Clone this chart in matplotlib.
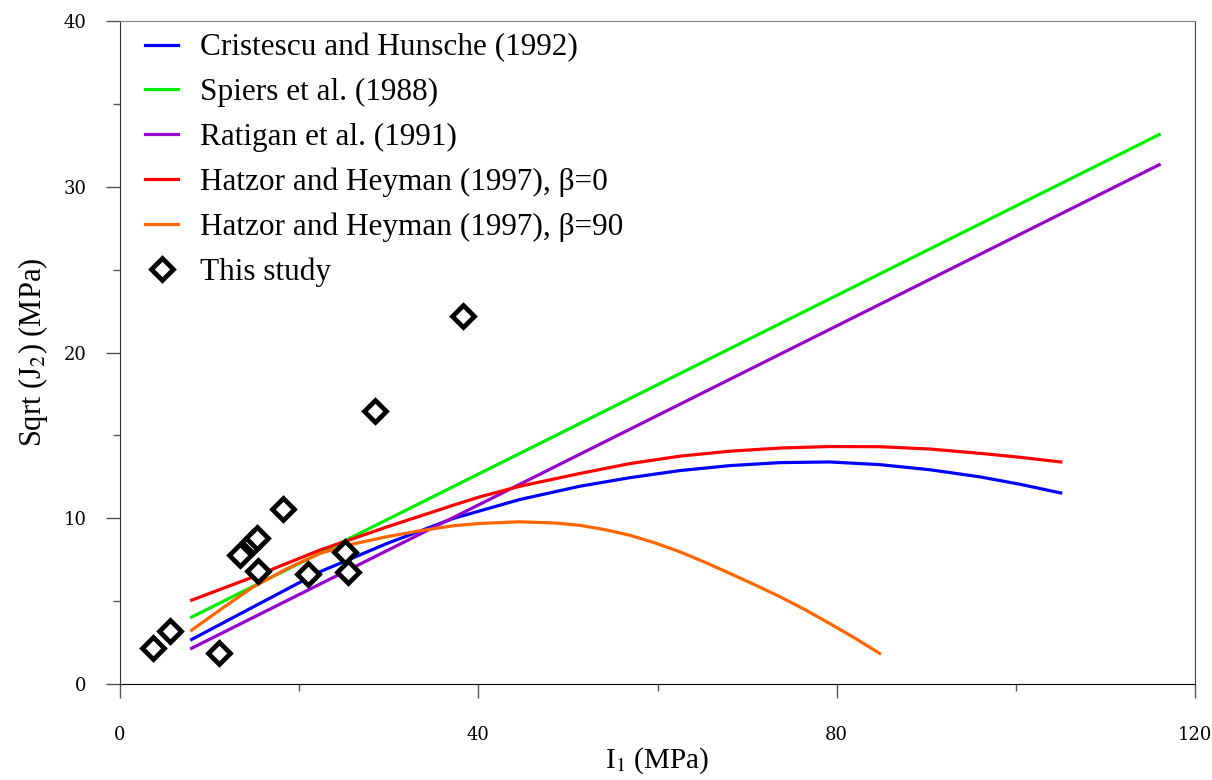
import matplotlib
matplotlib.use("Agg")
import matplotlib.pyplot as plt
import numpy as np

# lines (I1, sqrt(J2)) in MPa
cristescu_x = [8, 14.9, 22.3, 29.8, 37.2, 44.6, 51.3, 56.9, 62.5, 68.1, 73.7, 79.2, 84.8, 90.4, 96.0, 100.5, 105.0]
cristescu_y = [2.69, 4.66, 6.77, 8.48, 9.99, 11.13, 11.93, 12.45, 12.88, 13.18, 13.36, 13.4, 13.24, 12.93, 12.5, 12.05, 11.53]

spiers_x = [8, 116]
spiers_y = [4.04, 33.15]

ratigan_x = [8, 116]
ratigan_y = [2.16, 31.33]

hatzor0_x = [8, 14.9, 22.3, 29.8, 37.2, 40.2, 44.6, 51.3, 56.9, 62.5, 68.1, 73.7, 79.2, 84.8, 90.4, 96.0, 100.5, 105.0]
hatzor0_y = [5.06, 6.47, 8.08, 9.48, 10.79, 11.3, 11.93, 12.7, 13.3, 13.75, 14.05, 14.24, 14.33, 14.32, 14.18, 13.92, 13.68, 13.4]

hatzor90_x = [8, 11.5, 14.9, 18.6, 22.3, 26.0, 29.8, 33.5, 37.2, 40.2, 44.6, 48.5, 51.3, 54.1, 56.9,
              59.7, 62.5, 65.3, 68.1, 70.9, 73.7, 76.5, 79.2, 82.0, 84.8]
hatzor90_y = [3.25, 4.6, 5.87, 6.95, 7.88, 8.45, 8.89, 9.25, 9.55, 9.69, 9.79, 9.72, 9.58, 9.32, 8.98,
              8.52, 7.98, 7.35, 6.67, 5.98, 5.26, 4.48, 3.66, 2.78, 1.85]

study_x = [3.7, 5.6, 11.05, 13.4, 14.8, 15.3, 15.4, 18.2, 21.0, 25.1, 25.4, 28.5, 38.3]
study_y = [2.17, 3.19, 1.87, 7.78, 8.6, 8.8, 6.83, 10.55, 6.67, 7.98, 6.77, 16.45, 22.2]

plt.rcParams['mathtext.fontset'] = 'stix'
serif = ['Liberation Serif', 'DejaVu Serif']

fig = plt.figure(figsize=(12.12, 7.8), dpi=100)
ax = fig.add_axes([0.099, 0.123, 0.887, 0.850])

lw = 2.3
ax.plot(cristescu_x, cristescu_y, color='#0000ff', lw=lw, label='Cristescu and Hunsche (1992)')
ax.plot(spiers_x, spiers_y, color='#00ee00', lw=lw, label='Spiers et al. (1988)')
ax.plot(ratigan_x, ratigan_y, color='#9900cc', lw=lw, label='Ratigan et al. (1991)')
ax.plot(hatzor0_x, hatzor0_y, color='#ff0000', lw=lw, label='Hatzor and Heyman (1997), \u03b2=0')
ax.plot(hatzor90_x, hatzor90_y, color='#ff6600', lw=lw, label='Hatzor and Heyman (1997), \u03b2=90')
ax.plot(study_x, study_y, ls='none', marker='D', ms=11, mfc='white', mec='black', mew=3.4,
        label='This study', zorder=5)

ax.set_xlim(0, 120)
ax.set_ylim(0, 40)
ax.set_xticks([0, 40, 80, 120])
ax.set_xticks([20, 60, 100], minor=True)
ax.set_yticks([0, 10, 20, 30, 40])
ax.set_yticks([5, 15, 25, 35], minor=True)
ax.tick_params(which='major', direction='out', length=10, width=1, color='#555555', labelsize=13)
ax.tick_params(which='minor', direction='out', length=5, width=1, color='#555555')
ax.tick_params(axis='x', pad=20)
ax.tick_params(axis='y', pad=14)
for lab in ax.get_xticklabels() + ax.get_yticklabels():
    lab.set_fontfamily('DejaVu Serif')

ax.spines['top'].set_color('#808080')
ax.spines['right'].set_color('#404040')
ax.spines['left'].set_color('#333333')
ax.spines['bottom'].set_color('black')

ax.set_xlabel('I$_1$ (MPa)', fontsize=21, family=serif, labelpad=1)
ax.set_ylabel('Sqrt (J$_2$) (MPa)', fontsize=22, family=serif, labelpad=10)

ax.legend(loc='upper left', bbox_to_anchor=(0.0177, 0.991), frameon=False,
          prop={'family': serif, 'size': 22.5},
          handlelength=1.06, handletextpad=0.7, labelspacing=0.5,
          borderaxespad=0.0, borderpad=0.2, numpoints=1)

plt.savefig('out.png', dpi=100)
